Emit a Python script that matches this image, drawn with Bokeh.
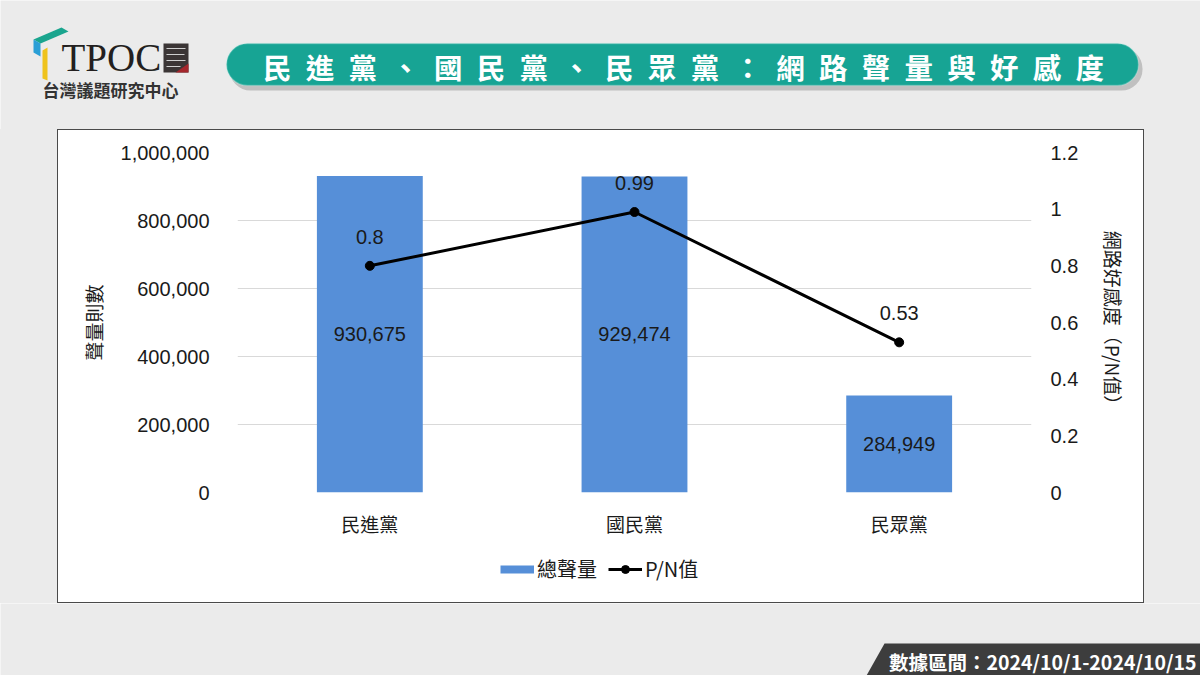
from bokeh.plotting import figure
from bokeh.models import (ColumnDataSource, FactorRange, Range1d, LinearAxis, FixedTicker,
                          NumeralTickFormatter, Legend, LegendItem, BoxAnnotation, Spacer)
from bokeh.layouts import row, column
from bokeh.embed import file_html
from bokeh.resources import INLINE
from bokeh.core.properties import value

# ---------------- data ----------------
parties = ["民進黨", "國民黨", "民眾黨"]
volume = [930675, 929474, 284949]
pn_ratio = [0.8, 0.99, 0.53]
volume_ticks = [0, 200000, 400000, 600000, 800000, 1000000]
pn_ticks = [0, 0.2, 0.4, 0.6, 0.8, 1.0, 1.2]
title_text = "民進黨、國民黨、民眾黨：網路聲量與好感度"
footer_text = "數據區間：2024/10/1-2024/10/15"
org_name = "台灣議題研究中心"
logo_text = "TPOC"
legend_volume = "總聲量"
legend_pn = "P/N值"
left_label = "聲量則數"
right_label = "網路好感度（P/N值）"

# ---------------- style ----------------
BG = "#ebebeb"
DARK = "#4a4a4a"
TEAL = "#17a494"
BAR = "#568fd8"
CJK = "Noto Sans CJK TC"
LAT = "Liberation Sans"
TXT = "#1a1a1a"

# ---------------- header ----------------
hdr = figure(width=1200, height=129, x_range=Range1d(0, 1200), y_range=Range1d(129, 0),
             x_axis_type=None, y_axis_type=None, toolbar_location=None, output_backend="svg",
             min_border=0, outline_line_color=None, background_fill_color=BG, border_fill_color=BG)

hdr.add_layout(BoxAnnotation(left=229, right=1142, top=47, bottom=90, fill_color="#9c9c9c",
                             fill_alpha=0.55, line_color=None, border_radius=21, level="underlay"))
hdr.add_layout(BoxAnnotation(left=226, right=1138, top=43, bottom=85, fill_color=TEAL, fill_alpha=1.0,
                             line_color="#bfeee7", line_width=1.5, border_radius=21, level="underlay"))
spaced_title = "\u2002".join(title_text)
hdr.text(x=[683], y=[66], text=[spaced_title], text_align="center", text_baseline="middle",
         text_font=value(CJK), text_font_size="28.5px", text_font_style="bold", text_color="white")

# logo icon
hdr.patches(xs=[[33, 61, 68, 40], [33, 40, 40, 33], [42, 47, 47, 42]],
            ys=[[39, 27, 31, 43], [39, 43, 56, 52], [50, 47, 80, 78]],
            fill_color=["#1aa58e", "#2a9fd6", "#efc31c"], line_color=None)
hdr.text(x=[61], y=[57], text=[logo_text], text_align="left", text_baseline="middle",
         text_font=value("Liberation Serif"), text_font_size="39px", text_color="#231f20")
hdr.quad(left=[163], right=[188], top=[43], bottom=[72], fill_color="#3b3535", line_color=None)
hdr.segment(x0=[166, 166, 166, 166], y0=[48, 54, 60, 66], x1=[185, 184, 185, 180], y1=[48, 54, 60, 66],
            line_color="#cfcfcf", line_width=1.2)
hdr.patch(x=[175, 188, 188], y=[72, 72, 63], fill_color="#a4262c", line_color=None)
hdr.text(x=[110], y=[89], text=[org_name], text_align="center", text_baseline="middle",
         text_font=value(CJK), text_font_size="17px", text_font_style="bold", text_color="#333333")

# ---------------- main chart ----------------
src = ColumnDataSource(dict(
    party=parties, volume=volume, pn=pn_ratio,
    vol_mid=[v / 2 for v in volume],
    vol_label=[f"{v:,}" for v in volume],
    pn_label=[f"{v:g}" for v in pn_ratio],
))

p = figure(width=1085, height=420, x_range=FactorRange(factors=parties), y_range=Range1d(0, 1000000),
           toolbar_location=None, output_backend="svg",
           min_border_left=179, min_border_right=112, min_border_top=22, min_border_bottom=58,
           outline_line_color=None, background_fill_color="white", border_fill_color="white")
p.extra_y_ranges = {"pn": Range1d(0, 1.2)}

bars = p.vbar(x="party", top="volume", width=0.4, source=src, fill_color=BAR, line_color=None)
ln = p.line(x="party", y="pn", source=src, y_range_name="pn", line_color="black", line_width=3)
pts = p.scatter(x="party", y="pn", source=src, y_range_name="pn", size=9,
                fill_color="black", line_color="black")

p.text(x="party", y="vol_mid", text="vol_label", source=src, text_align="center",
       text_baseline="middle", text_font=value(LAT), text_font_size="20px", text_color=TXT)
p.text(x="party", y="pn", text="pn_label", source=src, y_range_name="pn", y_offset=-29,
       text_align="center", text_baseline="middle", text_font=value(LAT),
       text_font_size="20px", text_color=TXT)

ly = p.yaxis[0]
ly.ticker = FixedTicker(ticks=volume_ticks)
ly.formatter = NumeralTickFormatter(format="0,0")
ly.axis_label = left_label
ly.major_label_standoff = 28
ly.axis_label_standoff = 11

ry = LinearAxis(y_range_name="pn", ticker=FixedTicker(ticks=pn_ticks),
                formatter=NumeralTickFormatter(format="0.[0]"), axis_label=right_label)
ry.major_label_standoff = 19
ry.axis_label_standoff = 19
p.add_layout(ry, "right")

bx = p.xaxis[0]
bx.major_label_standoff = 17

for ax in (ly, ry, bx):
    ax.axis_line_color = None
    ax.major_tick_line_color = None
    ax.minor_tick_line_color = None
    ax.major_tick_out = 0
    ax.major_tick_in = 0
    ax.major_label_text_font_size = "20px"
    ax.major_label_text_color = TXT
    ax.major_label_text_font = LAT
    ax.axis_label_text_font = CJK
    ax.axis_label_text_font_size = "19px"
    ax.axis_label_text_font_style = "normal"
    ax.axis_label_text_color = TXT
bx.major_label_text_font = CJK
bx.major_label_text_font_size = "19px"

p.xgrid.grid_line_color = None
p.ygrid.grid_line_color = "#d9d9d9"
p.ygrid.grid_line_width = 1

# ---------------- legend strip (inside the white box) ----------------
lg = figure(width=1085, height=52, x_range=FactorRange(factors=parties), y_range=Range1d(0, 1.2),
            x_axis_type=None, y_axis_type=None, toolbar_location=None, output_backend="svg",
            min_border=0, outline_line_color=None, background_fill_color="white",
            border_fill_color="white")
key_vol = lg.line(x="party", y="pn", source=src, line_color=BAR, line_width=8, visible=False)
key_ln = lg.line(x="party", y="pn", source=src, line_color="black", line_width=3, visible=False)
key_pt = lg.scatter(x="party", y="pn", source=src, size=9, fill_color="black",
                    line_color="black", visible=False)
leg = Legend(items=[LegendItem(label=legend_volume, renderers=[key_vol]),
                    LegendItem(label=legend_pn, renderers=[key_ln, key_pt])],
             location=(263, 19), orientation="horizontal", glyph_width=34, glyph_height=20,
             label_standoff=3, spacing=11, padding=0, margin=0, border_line_color=None,
             background_fill_alpha=0, label_text_font=CJK, label_text_font_size="20px",
             label_text_color=TXT, click_policy="none")
lg.add_layout(leg, "center")

# ---------------- footer ----------------
ftr = figure(width=1200, height=72, x_range=Range1d(0, 1200), y_range=Range1d(72, 0),
             x_axis_type=None, y_axis_type=None, toolbar_location=None, output_backend="svg",
             min_border=0, outline_line_color=None, background_fill_color=BG, border_fill_color=BG)
ftr.patch(x=[884, 1200, 1200, 866], y=[40, 40, 72, 72], fill_color="#3d3d3d", line_color=None)
ftr.text(x=[1196], y=[58], text=[footer_text], text_align="right", text_baseline="middle",
         text_font=value(CJK), text_font_size="19.5px", text_font_style="bold", text_color="white")


# ---------------- layout ----------------
def block(w, h, color):
    return Spacer(width=w, height=h, styles={"background-color": color})


mid = row(block(57, 474, BG), block(1, 474, DARK),
          column(block(1085, 1, DARK), p, lg, block(1085, 1, DARK)),
          block(1, 474, DARK), block(56, 474, BG))
page = column(hdr, mid, ftr)

open("out.html", "w").write(file_html(page, INLINE))
